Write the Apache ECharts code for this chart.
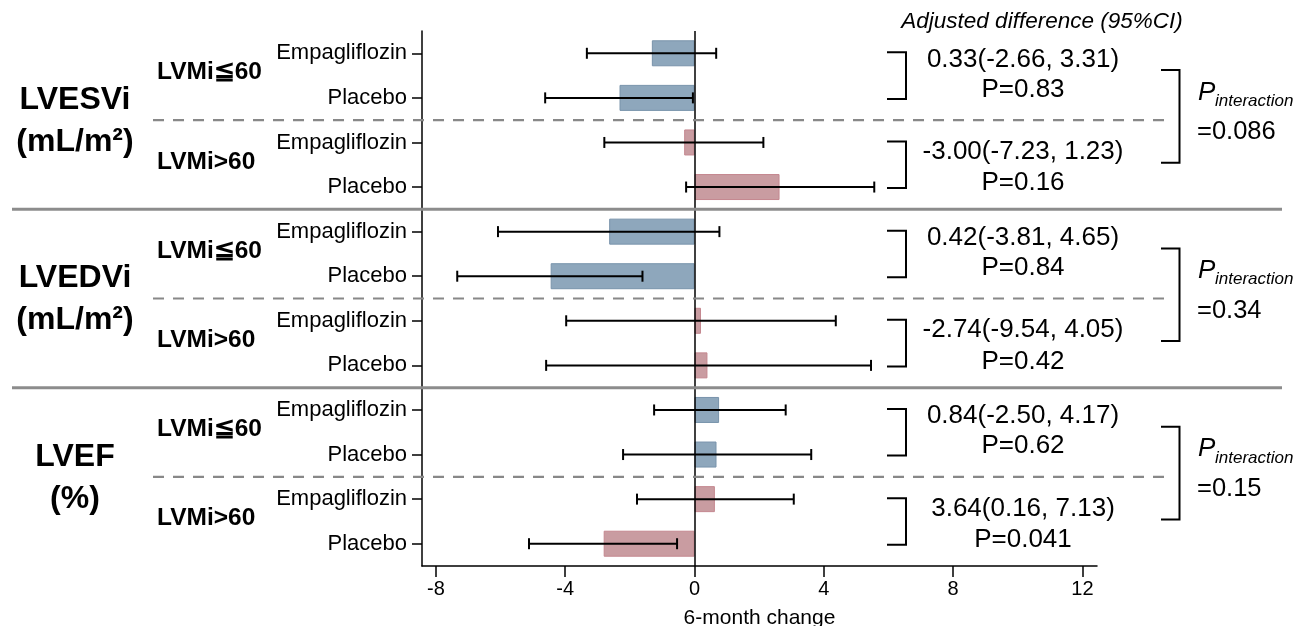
<!DOCTYPE html>
<html>
<head>
<meta charset="utf-8">
<script src="https://cdn.jsdelivr.net/npm/echarts@6/dist/echarts.min.js"></script>
<style>html,body{margin:0;padding:0;background:#fff}#main{width:1307px;height:626px}</style>
</head>
<body>
<div id="main"></div>
<script>
// rows, top to bottom
var rowLabels = ['Empagliflozin', 'Placebo', 'Empagliflozin', 'Placebo',
    'Empagliflozin', 'Placebo', 'Empagliflozin', 'Placebo',
    'Empagliflozin', 'Placebo', 'Empagliflozin', 'Placebo'];
var means = [-1.32, -2.32, -0.32, 2.63, -2.64, -4.45, 0.20, 0.40, 0.76, 0.68, 0.63, -2.81];
var ciLow = [-3.33, -4.62, -2.79, -0.26, -6.08, -7.34, -3.97, -4.59, -1.25, -2.21, -1.78, -5.12];
var ciHigh = [0.67, -0.05, 2.13, 5.56, 0.77, -1.61, 4.37, 5.46, 2.82, 3.61, 3.07, -0.54];

var outcomeNames = ['LVESVi', 'LVEDVi', 'LVEF'];
var outcomeUnits = ['(mL/m\u00b2)', '(mL/m\u00b2)', '(%)'];
var pInteraction = ['=0.086', '=0.34', '=0.15'];

var subgroupNames = ['LVMi\u226660', 'LVMi>60', 'LVMi\u226660', 'LVMi>60', 'LVMi\u226660', 'LVMi>60'];
var diffTexts = ['0.33(-2.66, 3.31)', '-3.00(-7.23, 1.23)', '0.42(-3.81, 4.65)',
    '-2.74(-9.54, 4.05)', '0.84(-2.50, 4.17)', '3.64(0.16, 7.13)'];
var pTexts = ['P=0.83', 'P=0.16', 'P=0.84', 'P=0.42', 'P=0.62', 'P=0.041'];

var xTicks = [-8, -4, 0, 4, 8, 12];

var FONT = '"Liberation Sans", Arial, Helvetica, sans-serif';
var colors = [
    {fill: '#8EA7BC', line: '#7893AB'},   // LVMi<=60
    {fill: '#C99CA1', line: '#C4878F'}    // LVMi>60
];

var chart = echarts.init(document.getElementById('main'));

function txt(text, x, y, size, opts) {
    opts = opts || {};
    return {
        type: 'text',
        style: {
            text: text, x: x, y: y,
            fill: '#000',
            fontFamily: FONT,
            fontSize: size,
            fontWeight: opts.weight || 'normal',
            fontStyle: opts.style || 'normal',
            align: opts.align || 'center',
            verticalAlign: 'middle'
        }
    };
}

function rowY(api, r) {
    return api.coord([0, r])[1];
}

var barData = means.map(function (v, i) {
    var c = colors[Math.floor(i / 2) % 2];
    return {value: v, itemStyle: {color: c.fill, borderColor: c.line, borderWidth: 1}};
});

var option = {
    animation: false,
    backgroundColor: '#fff',
    textStyle: {fontFamily: FONT},
    grid: {left: 422, right: 210, top: 31, bottom: 60, containLabel: false, outerBoundsMode: 'none'},
    xAxis: {
        type: 'value',
        min: -8.43,
        max: 12.45,
        name: '6-month change',
        nameLocation: 'middle',
        nameGap: 42,
        nameTextStyle: {fontSize: 21, color: '#000', fontFamily: FONT},
        axisLine: {show: true, onZero: false, lineStyle: {color: '#000', width: 1.5}},
        axisTick: {show: true, length: 11, customValues: xTicks, lineStyle: {color: '#000', width: 1.5}},
        axisLabel: {customValues: xTicks, fontSize: 20, color: '#000', margin: 13, fontFamily: FONT},
        splitLine: {show: false}
    },
    yAxis: {
        type: 'category',
        inverse: true,
        data: rowLabels,
        axisLine: {show: true, onZero: false, lineStyle: {color: '#000', width: 1.5}},
        axisTick: {show: true, alignWithLabel: true, length: 10, lineStyle: {color: '#000', width: 1.5}},
        axisLabel: {fontSize: 22, color: '#000', margin: 15, fontFamily: FONT},
        splitLine: {show: false}
    },
    graphic: [
        {
            type: 'text', x: 1042, y: 22,
            style: {text: 'Adjusted difference (95%CI)', fill: '#000', fontFamily: FONT,
                fontSize: 22.5, fontStyle: 'italic', align: 'center', verticalAlign: 'middle'}
        }
    ],
    series: [
        {
            name: 'change',
            type: 'bar',
            barWidth: 26,
            data: barData,
            z: 2,
            markLine: {
                silent: true,
                symbol: 'none',
                label: {show: false},
                lineStyle: {color: '#000', width: 1.5, type: 'solid'},
                data: [{xAxis: 0}]
            }
        },
        {
            name: 'ci',
            type: 'custom',
            z: 4,
            encode: {x: [0, 1], y: 2},
            data: ciLow.map(function (lo, i) { return [lo, ciHigh[i], i]; }),
            renderItem: function (params, api) {
                var a = api.coord([api.value(0), api.value(2)]);
                var b = api.coord([api.value(1), api.value(2)]);
                var h = 5.5;
                var st = {stroke: '#000', lineWidth: 2};
                return {
                    type: 'group',
                    children: [
                        {type: 'line', shape: {x1: a[0], y1: a[1], x2: b[0], y2: b[1]}, style: st},
                        {type: 'line', shape: {x1: a[0], y1: a[1] - h, x2: a[0], y2: a[1] + h}, style: st},
                        {type: 'line', shape: {x1: b[0], y1: b[1] - h, x2: b[0], y2: b[1] + h}, style: st}
                    ]
                };
            }
        },
        {
            // subgroup labels, small brackets, adjusted differences
            name: 'subgroups',
            type: 'custom',
            z: 5,
            encode: {x: 0, y: 1},
            data: subgroupNames.map(function (n, i) { return [0, i * 2]; }),
            renderItem: function (params, api) {
                var g = params.dataIndex;
                var odd = g % 2;
                var yTop = rowY(api, g * 2);
                var yBot = rowY(api, g * 2 + 1);
                var mid = (yTop + yBot) / 2;
                var kids = [
                    txt(subgroupNames[g], 157, mid - 3, 24.5, {weight: 'bold', align: 'left'}),
                    {
                        type: 'polyline',
                        shape: {points: [[887, yTop - 1], [906, yTop - 1], [906, yBot + 1], [887, yBot + 1]]},
                        style: {stroke: '#000', lineWidth: 2, fill: null}
                    },
                    txt(diffTexts[g], 1023, mid + (odd ? -13 : -16), 26),
                    txt(pTexts[g], 1023, mid + (odd ? 18.5 : 14), 26)
                ];
                if (!odd) {
                    var yd = (yBot + rowY(api, g * 2 + 2)) / 2;
                    kids.push({
                        type: 'line',
                        shape: {x1: 153, y1: yd, x2: 1172, y2: yd},
                        style: {stroke: '#888', lineWidth: 2.2, lineDash: [11, 9]}
                    });
                }
                return {type: 'group', children: kids};
            }
        },
        {
            // outcome labels, interaction brackets, separators
            name: 'outcomes',
            type: 'custom',
            z: 5,
            encode: {x: 0, y: 1},
            data: outcomeNames.map(function (n, i) { return [0, i * 4]; }),
            renderItem: function (params, api) {
                var o = params.dataIndex;
                var r0 = o * 4;
                var y0 = rowY(api, r0), y1 = rowY(api, r0 + 1), y2 = rowY(api, r0 + 2), y3 = rowY(api, r0 + 3);
                var center = (y0 + y3) / 2;
                var top = (y0 + y1) / 2 - 5.5;
                var bot = (y2 + y3) / 2 - 2;
                var bmid = (top + bot) / 2;
                var kids = [
                    txt(outcomeNames[o], 75, center - 20, 32, {weight: 'bold'}),
                    txt(outcomeUnits[o], 75, center + 22, 32, {weight: 'bold'}),
                    {
                        type: 'polyline',
                        shape: {points: [[1161, top], [1179.5, top], [1179.5, bot], [1161, bot]]},
                        style: {stroke: '#000', lineWidth: 2, fill: null}
                    },
                    txt('P', 1198, bmid - 24, 26, {style: 'italic', align: 'left'}),
                    txt('interaction', 1215, bmid - 15, 17, {style: 'italic', align: 'left'}),
                    txt(pInteraction[o], 1197, bmid + 16, 25.5, {align: 'left'})
                ];
                if (o < outcomeNames.length - 1) {
                    var ys = (y3 + rowY(api, r0 + 4)) / 2;
                    kids.push({
                        type: 'line',
                        shape: {x1: 12, y1: ys, x2: 1282, y2: ys},
                        style: {stroke: '#8c8c8c', lineWidth: 3}
                    });
                }
                return {type: 'group', children: kids};
            }
        }
    ]
};

chart.setOption(option);
</script>
</body>
</html>
